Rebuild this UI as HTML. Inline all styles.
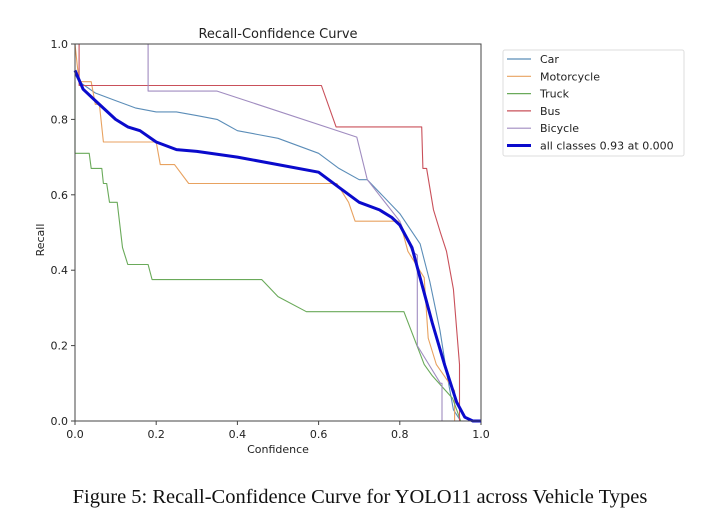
<!DOCTYPE html>
<html><head><meta charset="utf-8"><style>
body{margin:0;background:#fff;width:720px;height:519px;overflow:hidden}
svg{display:block;font-family:"DejaVu Sans","Liberation Sans",sans-serif}
</style></head><body>
<svg id="chart" width="720" height="519">
<text x="278" y="38" font-size="13" text-anchor="middle" fill="#222">Recall-Confidence Curve</text>
<g id="axes"></g>
<g id="series"></g>
<rect x="75" y="44" width="406" height="377" fill="none" stroke="#444" stroke-width="1"/>
<text x="278" y="453" font-size="11" text-anchor="middle" fill="#222">Confidence</text>
<text x="44" y="240" font-size="11" text-anchor="middle" fill="#222" transform="rotate(-90 44 240)">Recall</text>
<g id="legend">
<rect x="503" y="50" width="181" height="106" fill="#fff" stroke="#ddd" rx="2"/>
</g>
<text x="360" y="503" font-size="20.5" text-anchor="middle" fill="#111" font-family="'Liberation Serif',serif">Figure 5: Recall-Confidence Curve for YOLO11 across Vehicle Types</text>
</svg>
<script>
const xTicks=[0,0.2,0.4,0.6,0.8,1.0];
const yTicks=[0,0.2,0.4,0.6,0.8,1.0];
const seriesNames=["Car","Motorcycle","Truck","Bus","Bicycle","all classes 0.93 at 0.000"];
const seriesColors=["#5b8db8","#e8a260","#6aaa5a","#c9505a","#a08cc0","#0a0acc"];
const carX=[0,0.01,0.05,0.1,0.15,0.2,0.25,0.3,0.35,0.4,0.45,0.5,0.55,0.6,0.65,0.7,0.72,0.8,0.85,0.874,0.899,0.915,0.932,0.95,1.0];
const carY=[0.92,0.90,0.87,0.85,0.83,0.82,0.82,0.81,0.80,0.77,0.76,0.75,0.73,0.71,0.67,0.64,0.64,0.55,0.47,0.37,0.24,0.13,0.03,0,0];
const motoX=[0,0.005,0.01,0.04,0.05,0.06,0.065,0.07,0.2,0.21,0.245,0.28,0.645,0.674,0.69,0.694,0.80,0.82,0.86,0.87,0.89,0.935,0.935,1.0];
const motoY=[1.0,0.95,0.9,0.9,0.84,0.84,0.79,0.74,0.74,0.68,0.68,0.63,0.63,0.58,0.53,0.53,0.53,0.45,0.38,0.22,0.15,0.08,0,0];
const truckX=[0,0,0.035,0.04,0.066,0.07,0.078,0.085,0.104,0.117,0.13,0.18,0.19,0.46,0.5,0.57,0.81,0.86,0.88,0.93,0.95,1.0];
const truckY=[0.9,0.71,0.71,0.67,0.67,0.63,0.63,0.58,0.58,0.46,0.415,0.415,0.375,0.375,0.33,0.29,0.29,0.15,0.12,0.06,0,0];
const busX=[0.01,0.01,0.607,0.643,0.854,0.857,0.866,0.883,0.9,0.915,0.932,0.947,0.947,1.0];
const busY=[1.0,0.89,0.89,0.78,0.78,0.67,0.67,0.56,0.50,0.45,0.35,0.15,0,0];
const bikeX=[0.18,0.18,0.35,0.694,0.72,0.8,0.83,0.843,0.843,0.9,0.904,0.904,1.0];
const bikeY=[1.0,0.875,0.875,0.753,0.64,0.53,0.45,0.44,0.2,0.1,0.1,0,0];
const allX=[0,0.02,0.05,0.1,0.13,0.16,0.2,0.25,0.3,0.4,0.5,0.6,0.65,0.7,0.75,0.78,0.8,0.83,0.85,0.88,0.91,0.94,0.96,0.98,1.0];
const allY=[0.93,0.88,0.85,0.80,0.78,0.77,0.74,0.72,0.715,0.70,0.68,0.66,0.62,0.58,0.56,0.54,0.52,0.46,0.38,0.26,0.15,0.05,0.01,0,0];
const NS="http://www.w3.org/2000/svg";
const X=v=>75+v*406, Y=v=>421-v*377;
const axes=document.getElementById('axes');
function mk(tag,attrs,parent){const e=document.createElementNS(NS,tag);for(const k in attrs)e.setAttribute(k,attrs[k]);parent.appendChild(e);return e;}
xTicks.forEach(t=>{
  const l=mk('line',{x1:X(t),x2:X(t),y1:421,y2:425,stroke:'#444'},axes);
  
  
  const tx=mk('text',{x:X(t),y:438,'font-size':11,'text-anchor':'middle',fill:'#222'},axes);
  tx.textContent=t.toFixed(1);
  
  
});
yTicks.forEach(t=>{
  const l=mk('line',{x1:71,x2:75,y1:Y(t),y2:Y(t),stroke:'#444'},axes);
  
  
  const tx=mk('text',{x:68,y:Y(t)+4,'font-size':11,'text-anchor':'end',fill:'#222'},axes);
  tx.textContent=t.toFixed(1);
  
  
});
const sg=document.getElementById('series');
const data=[[carX,carY],[motoX,motoY],[truckX,truckY],[busX,busY],[bikeX,bikeY],[allX,allY]];
const slugs=['car','motorcycle','truck','bus','bicycle','all-classes'];
data.forEach((d,i)=>{
  const pts=d[0].map((x,j)=>X(x).toFixed(1)+','+Y(d[1][j]).toFixed(1)).join(' ');
  const p=mk('polyline',{points:pts,fill:'none',stroke:seriesColors[i],'stroke-width':i==5?3:1.1,'stroke-linejoin':'round'},sg);
  
  
});
const lg=document.getElementById('legend');
seriesNames.forEach((n,i)=>{
  const y=59+i*17.3;
  const l=mk('line',{x1:507,x2:531,y1:y,y2:y,stroke:seriesColors[i],'stroke-width':i==5?3:1.2},lg);
  
  
  const t=mk('text',{x:540,y:y+4,'font-size':11,fill:'#222'},lg);
  t.textContent=n;
  
  
});
</script>
</body></html>
